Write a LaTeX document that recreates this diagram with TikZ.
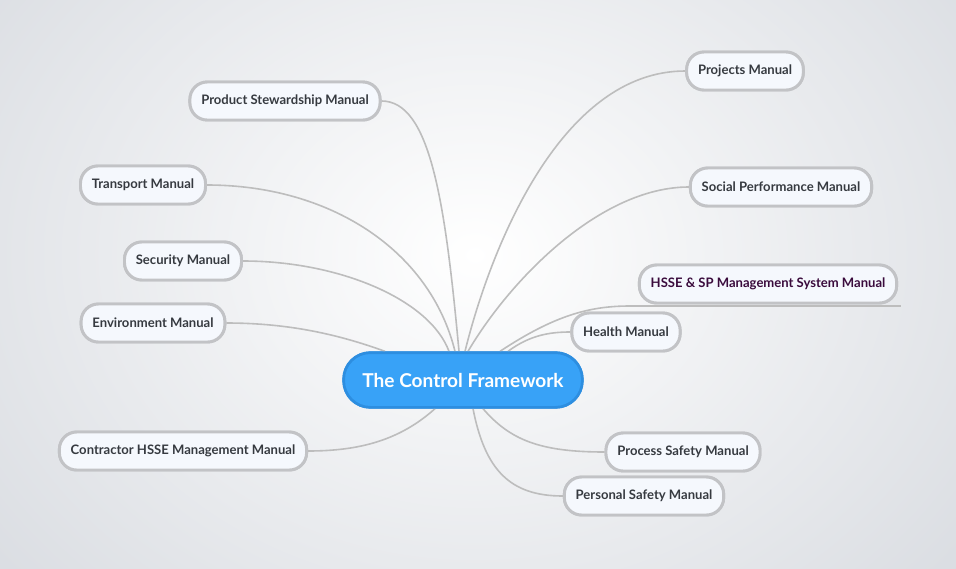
\documentclass[tikz,border=0pt]{standalone}
\usepackage{fontspec}
\setmainfont{Lato}
\usetikzlibrary{calc}
\definecolor{bgout}{HTML}{DADDE2}
\definecolor{nodefill}{HTML}{F5F8FD}
\definecolor{nodeborder}{HTML}{C2C3C6}
\definecolor{nodetext}{HTML}{363A40}
\definecolor{hsstext}{HTML}{3A0B3C}
\definecolor{linkc}{HTML}{BDBDBD}
\definecolor{centerfill}{HTML}{38A2F7}
\definecolor{centerborder}{HTML}{2D8EE0}
\tikzset{
  topic/.style={draw=nodeborder, line width=2.2pt, fill=nodefill, rounded corners=13pt,
    minimum height=28.5pt, inner xsep=8.5pt, text=nodetext,
    font=\fontsize{9.8}{11}\selectfont\bfseries},
  central/.style={draw=centerborder, line width=2pt, fill=centerfill, rounded corners=20pt,
    minimum height=41pt, minimum width=179pt, text=white,
    font=\fontsize{14.3}{16}\selectfont\bfseries},
  link/.style={draw=linkc, line width=1.2pt}
}
\begin{document}
\begin{tikzpicture}[x=0.75pt,y=-0.75pt]
\useasboundingbox (0,0) rectangle (956,568);
\shade[inner color=white, outer color=bgout] (-150,-250) rectangle (1100,760);

\node[central] (c) at (463,380) {The Control Framework};

\node[topic] (proj) at (745,71) {Projects Manual};
\node[topic] (soc) at (781,187) {Social Performance Manual};
\node[topic, text=hsstext] (hsse) at (768,284) {HSSE \& SP Management System Manual};
\node[topic] (health) at (626,332) {Health Manual};
\node[topic] (proc) at (683,452) {Process Safety Manual};
\node[topic] (pers) at (644,496) {Personal Safety Manual};
\node[topic] (prod) at (285,101) {Product Stewardship Manual};
\node[topic] (trans) at (143,185) {Transport Manual};
\node[topic] (sec) at (183,261) {Security Manual};
\node[topic] (env) at (153,323) {Environment Manual};
\node[topic] (contr) at (183,451) {Contractor HSSE Management Manual};

\coordinate (ulA) at (630,306);
\coordinate (ulB) at (901,306);
\draw[link] (ulA) -- (ulB);

% right side
\draw[link] ($(c.north)+(2,0)$) .. controls (490,250) and (560,71) .. (proj.west);
\draw[link] ($(c.north)+(5,0)$) .. controls (510,280) and (600,187) .. (soc.west);
\draw[link] ($(c.north)+(37,0)$) .. controls (555,315) and (590,306) .. (ulA);
\draw[link] ($(c.north)+(45,0)$) .. controls (530,335) and (550,332) .. (health.west);
\draw[link] ($(c.south)+(20,0)$) .. controls (510,440) and (540,452) .. (proc.west);
\draw[link] ($(c.south)+(10,0)$) .. controls (485,470) and (510,496) .. (pers.west);
% left side
\draw[link] ($(c.north)+(-4,0)$) .. controls (445,200) and (430,101) .. (prod.east);
\draw[link] ($(c.north)+(-8,0)$) .. controls (430,250) and (330,185) .. (trans.east);
\draw[link] ($(c.north)+(-14,0)$) .. controls (430,300) and (340,261) .. (sec.east);
\draw[link] ($(c.north)+(-78,0)$) .. controls (340,335) and (290,323) .. (env.east);
\draw[link] ($(c.south)+(-28,0)$) .. controls (400,440) and (360,451) .. (contr.east);

% redraw nodes on top
\node[central] at (463,380) {The Control Framework};
\node[topic] at (745,71) {Projects Manual};
\node[topic] at (781,187) {Social Performance Manual};
\node[topic, text=hsstext] at (768,284) {HSSE \& SP Management System Manual};
\node[topic] at (626,332) {Health Manual};
\node[topic] at (683,452) {Process Safety Manual};
\node[topic] at (644,496) {Personal Safety Manual};
\node[topic] at (285,101) {Product Stewardship Manual};
\node[topic] at (143,185) {Transport Manual};
\node[topic] at (183,261) {Security Manual};
\node[topic] at (153,323) {Environment Manual};
\node[topic] at (183,451) {Contractor HSSE Management Manual};
\end{tikzpicture}
\end{document}
